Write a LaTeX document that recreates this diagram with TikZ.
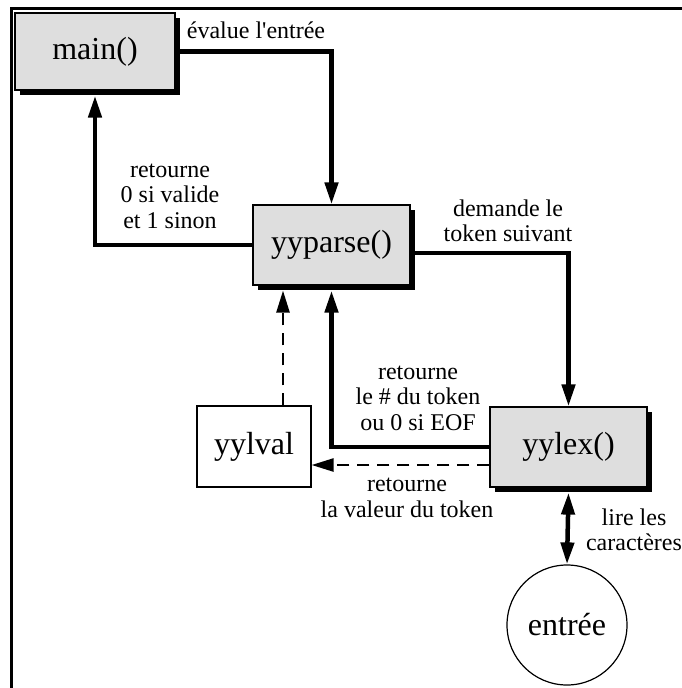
\documentclass[tikz,border=0pt]{standalone}
\usepackage{fontspec}
\setmainfont{Liberation Serif}[Ligatures=TeXOff]
\usetikzlibrary{arrows.meta,shadows}
\begin{document}
\begin{tikzpicture}[x=1pt,y=-1pt,
  boxfont/.style={font=\fontsize{32}{34}\selectfont},
  labfont/.style={font=\fontsize{24}{25.5}\selectfont, align=center, inner sep=0pt},
  procbox/.style={draw, line width=1.2pt, fill=black!13, inner sep=0pt, boxfont,
    general shadow={fill=black, shadow xshift=5pt, shadow yshift=-5pt}},
  plainbox/.style={draw, line width=1.2pt, fill=white, inner sep=0pt, boxfont},
  tip/.style={-{Triangle[length=22pt,width=13pt]}},
  conn/.style={tip, line width=4.5pt},
  dconn/.style={tip, line width=2.5pt, dash pattern=on 12pt off 8pt},
]
\useasboundingbox (0,0) rectangle (682,688);
\clip (0,0) rectangle (682,688);
\fill[white] (0,0) rectangle (682,688);
\draw[line width=3pt] (11.5,8) rectangle (720,720);

% nodes
\node[procbox, minimum width=160pt, minimum height=77pt] (main) at (95,51.5) {main()};
\node[procbox, minimum width=157pt, minimum height=80pt] (yyparse) at (331.5,245) {yyparse()};
\node[procbox, minimum width=157pt, minimum height=80pt] (yylex) at (568.5,447) {yylex()};
\node[plainbox, minimum width=114pt, minimum height=81pt] (yylval) at (254,446.5) {yylval};
\node[circle, draw, line width=1.2pt, minimum size=120pt, inner sep=0pt, boxfont] (entree) at (567,625) {entrée};

% helper coordinates
\coordinate (mainS) at ([yshift=-5pt]main.south);
\coordinate (parseS) at ([yshift=-5pt]yyparse.south);
\coordinate (parseE) at ([yshift=-8pt]yyparse.east);
\coordinate (lexS) at ([yshift=-5pt]yylex.south);
\coordinate (lexW2) at ([yshift=-18pt]yylex.west);
\coordinate (lvalN) at ([xshift=29pt]yylval.north);

% connectors
\draw[conn] (main.east) -| (yyparse.north);
\draw[conn] (yyparse.west) -| (mainS);
\draw[conn] (parseE) -| (yylex.north);
\draw[conn] (yylex.west) -| (parseS);
\draw[dconn] (lexW2) -- (yylval.east |- lexW2);
\draw[dconn] (lvalN) -- (lvalN |- parseS);
\draw[line width=4.5pt, {Triangle[length=22pt,width=13pt]}-{Triangle[length=22pt,width=13pt]}] (lexS) -- (entree.north);

% labels
\node[labfont] (l1) at (256,30) {évalue l'entrée};
\node[labfont] (l2) at (170,196) {retourne\\0 si valide\\et 1 sinon};
\node[labfont] (l3) at (508,221) {demande le\\token suivant};
\node[labfont] (l4) at (418,398) {retourne\\le \# du token\\ou 0 si EOF};
\node[labfont] (l5) at (407,498) {retourne\\la valeur du token};
\node[labfont] (l6) at (634,530) {lire les\\caractères};
\end{tikzpicture}
\end{document}
